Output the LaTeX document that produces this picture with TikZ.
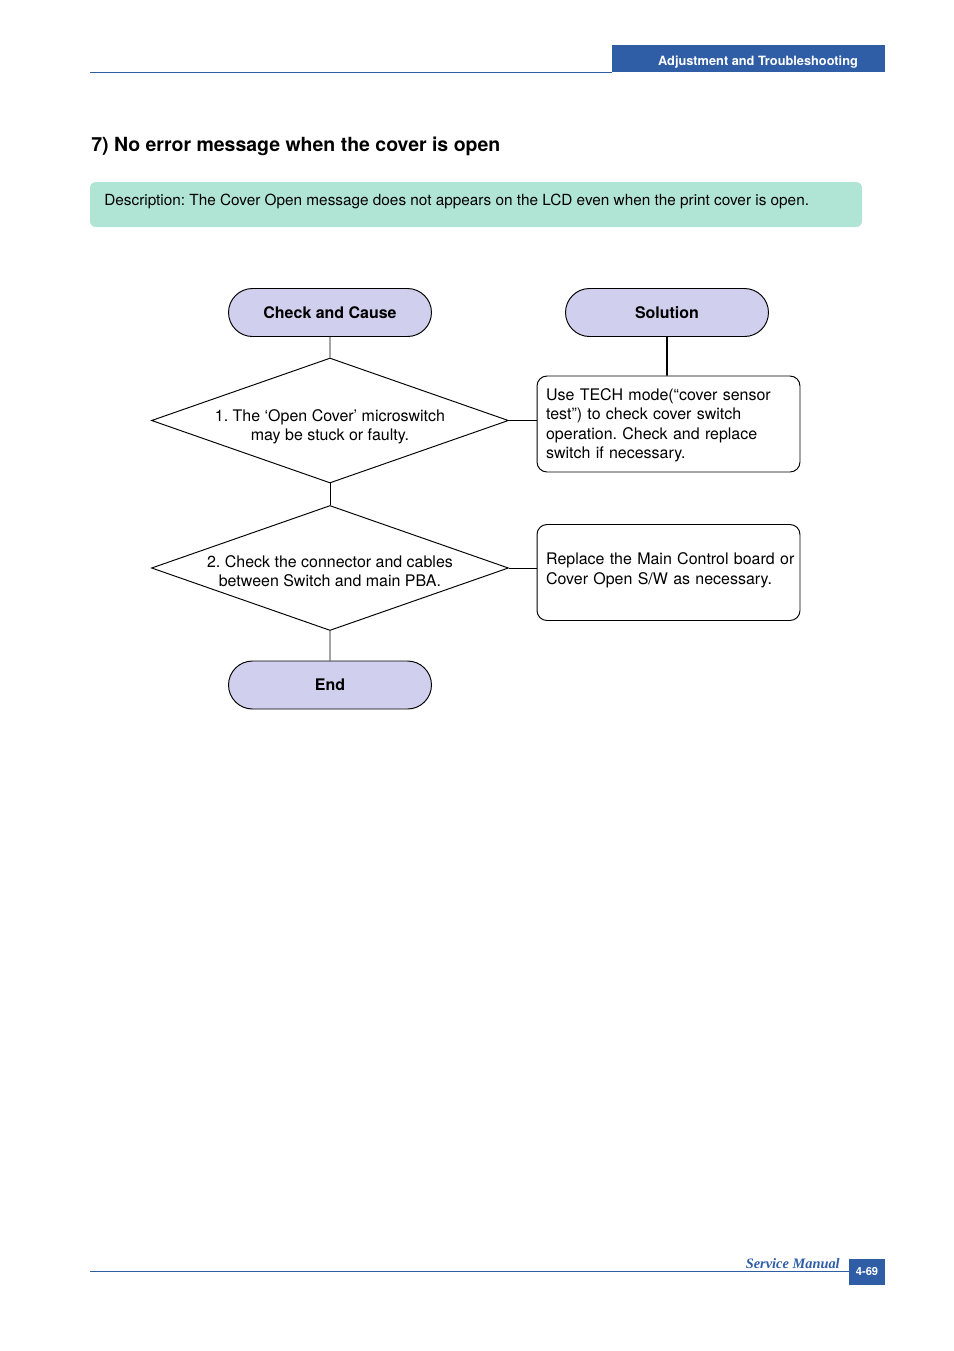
\documentclass[tikz,border=0pt]{standalone}
\usepackage{fontspec}
\setmainfont{TeX Gyre Heros}
\newfontfamily\manualfont{Liberation Serif}
\usetikzlibrary{shapes.geometric}
\usetikzlibrary{shapes.misc}
\frenchspacing

\definecolor{headblue}{RGB}{47,93,166}
\definecolor{descgreen}{RGB}{176,229,213}
\definecolor{termfill}{RGB}{208,208,238}

\tikzset{
  terminal/.style={draw, rounded rectangle, fill=termfill, minimum width=4.7cm, minimum height=1.056cm,
    font=\fontsize{10}{12}\selectfont\bfseries, line width=0.6pt},
  decision/.style={draw, diamond, inner sep=0pt, minimum width=7.854cm, minimum height=2.75cm, line width=0.6pt},
  decisiontext/.style={align=center, yshift=-0.13cm, font=\fontsize{10}{12}\selectfont},
  remedy/.style={draw, rounded corners=0.22cm, minimum width=5.786cm, minimum height=2.112cm,
    inner xsep=0.2cm, text width=5.386cm, align=left, font=\fontsize{10}{12}\selectfont, line width=0.6pt},
  link/.style={line width=0.6pt}
}

\begin{document}
\begin{tikzpicture}[x=0.022cm, y=-0.022cm]
\useasboundingbox (0,0) rectangle (954,1351);
% header bar
\fill[headblue] (612,45) rectangle (885,72);
\draw[headblue, line width=0.5pt] (90,72) -- (612,72);
\node[text=white, font=\fontsize{8}{10}\selectfont\bfseries] (header) at (758,62.5) {Adjustment and Troubleshooting};
% title and description
\node[anchor=base west, inner sep=0pt, font=\fontsize{12.2}{14}\selectfont\bfseries] (title) at (91,151)
  {7) No error message when the cover is open};
\fill[descgreen, rounded corners=0.13cm] (90,182) rectangle (862,227);
\node[anchor=base west, inner sep=0pt, font=\fontsize{9.6}{12}\selectfont] (desc) at (104,205)
  {Description: The Cover Open message does not appears on the LCD even when the print cover is open.};
% flow chart
\node[terminal] (check) at (330,312.5) {Check and Cause};
\node[terminal] (solution) at (667,312.5) {Solution};
\node[decision, label={[decisiontext]center:1. The ‘Open Cover’ microswitch\\may be stuck or faulty.}] (cause1) at (330,420.5) {};
\node[decision, label={[decisiontext, yshift=0.066cm]center:2. Check the connector and cables\\between Switch and main PBA.}] (cause2) at (330,568) {};
\node[terminal] (end) at (330,685) {End};
\node[remedy] (fix1) at (668.5,424) {\rule{0pt}{9pt}Use TECH mode(“cover sensor\\test”) to check cover switch\\operation. Check and replace\\switch if necessary.};
\node[remedy] (fix2) at (668.5,572.5) {\mbox{Replace the Main Control board or}\\Cover Open S/W as necessary.\rule[-5pt]{0pt}{5pt}};
\draw[link] (check) -- (cause1);
\draw[link] (cause1) -- (cause2);
\draw[link] (cause2) -- (end);
\draw[link] (cause1.east) -- (cause1.east -| fix1.west);
\draw[link] (cause2.east) -- (cause2.east -| fix2.west);
\draw[line width=1.1pt] (solution) -- (solution |- fix1.north);
% footer
\draw[headblue, line width=0.5pt] (90,1271) -- (849,1271);
\fill[headblue] (849,1259) rectangle (885,1285);
\node[text=white, font=\fontsize{7}{8}\selectfont\bfseries] (page) at (867,1271) {4-69};
\node[anchor=base east, inner sep=0pt, text=headblue, font=\manualfont\fontsize{9}{10}\selectfont\bfseries\itshape] (manual) at (840,1268) {Service Manual};
\end{tikzpicture}
\end{document}
